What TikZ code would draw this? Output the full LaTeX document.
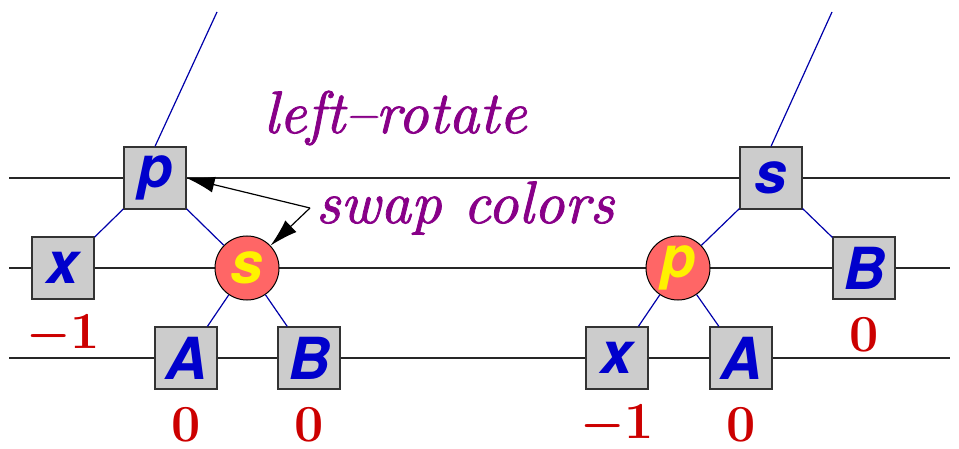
\documentclass[tikz,border=0pt]{standalone}
\usepackage{fontspec}
\setsansfont{TeX Gyre Heros}
\newfontfamily\remarkfont{lmroman10-italic.otf}[FakeBold=1.3, Ligatures=TeX]
\usetikzlibrary{arrows.meta, positioning, calc}

\definecolor{keyblue}{RGB}{0,0,204}
\definecolor{edgeblue}{RGB}{0,0,170}
\definecolor{rotpurple}{RGB}{136,0,136}
\definecolor{numred}{RGB}{204,0,0}
\definecolor{redfill}{RGB}{255,102,102}
\definecolor{keygray}{RGB}{204,204,204}

\begin{document}
\begin{tikzpicture}[x=0.5pt, y=-0.5pt,
  keybox/.style={draw=black!80, line width=0.6pt, fill=keygray, minimum size=31pt,
    inner sep=0pt, font=\fontsize{29}{29}\sffamily\bfseries\itshape, text=keyblue},
  rednode/.style={circle, draw=black, line width=0.5pt, fill=redfill, minimum size=32pt,
    inner sep=0pt, font=\fontsize{29}{29}\sffamily\bfseries\itshape, text=yellow},
  edge/.style={edgeblue, line width=0.6pt},
  level/.style={black!85, line width=1.1pt},
  num/.style={font=\fontsize{26}{26}\selectfont\bfseries, text=numred},
  remark/.style={font=\fontsize{30}{30}\remarkfont, text=rotpurple, anchor=base},
  swaparrow/.style={-{Latex[length=14pt, width=8pt]}, black, line width=0.6pt}]
  \useasboundingbox (0,0) rectangle (959,449);

  % levels
  \draw[level] (9,178) -- (950,178);
  \draw[level] (9,268) -- (950,268);
  \draw[level] (9,358) -- (950,358);

  % before
  \node[keybox] (lp) at (155,178) {p};
  \node[keybox] (lx) at (63,268) {x};
  \node[rednode] (ls) at (247,268) {s};
  \node[keybox] (lA) at (186,358) {A};
  \node[keybox] (lB) at (309,358) {B};
  \coordinate (ltop) at (217,12);
  \draw[edge] (lp.north) -- (ltop);
  \draw[edge] (lp) -- (lx);
  \draw[edge] (lp) -- (ls);
  \draw[edge] (ls) -- (lA);
  \draw[edge] (ls) -- (lB);
  \node[num] (nlx) at ($(lx)+(0,67)$) {{\boldmath$-$}1};
  \node[num] (nlA) at ($(lA)+(0,67)$) {0};
  \node[num] (nlB) at ($(lB)+(0,67)$) {0};

  % after
  \node[keybox] (rs) at (771,178) {s};
  \node[rednode] (rp) at (678,268) {p};
  \node[keybox] (rB) at (864,268) {B};
  \node[keybox] (rx) at (617,358) {x};
  \node[keybox] (rA) at (741,358) {A};
  \coordinate (rtop) at (832,12);
  \draw[edge] (rs.north) -- (rtop);
  \draw[edge] (rs) -- (rp);
  \draw[edge] (rs) -- (rB);
  \draw[edge] (rp) -- (rx);
  \draw[edge] (rp) -- (rA);
  \node[num] (nrx) at ($(rx)+(0,67)$) {{\boldmath$-$}1};
  \node[num] (nrA) at ($(rA)+(0,67)$) {0};
  \node[num] (nrB) at ($(rB)+(0,67)$) {0};

  % remarks
  \node[remark] (rot) at (395,133) {left--rotate};
  \node[remark] (swap) at (465,223) {swap colors};
  \coordinate (sw) at (310,208);
  \draw[swaparrow] (sw) -- (lp.east);
  \draw[swaparrow] (sw) -- (ls);
\end{tikzpicture}
\end{document}
